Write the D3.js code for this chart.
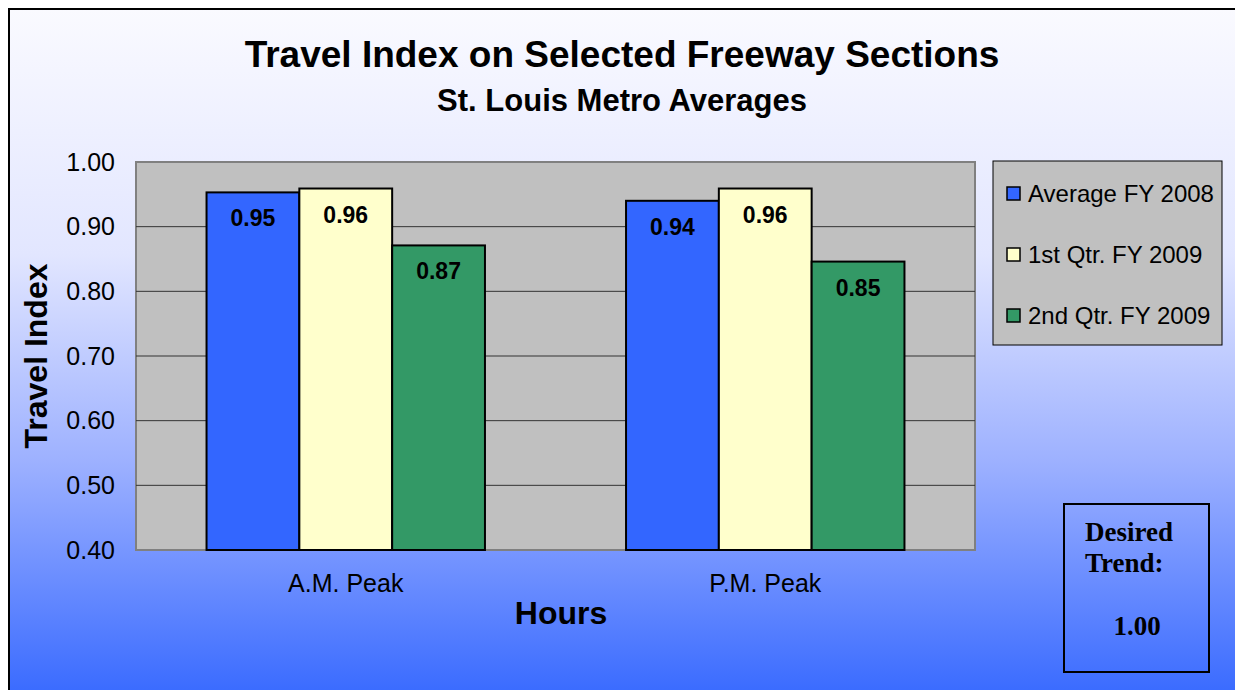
<!DOCTYPE html>
<html lang="en">
<head>
<meta charset="utf-8">
<title>Travel Index on Selected Freeway Sections</title>
<style>
  body { margin: 0; background: #fff; }
</style>
</head>
<body>
<svg id="chart" width="1235" height="690" font-family="'Liberation Sans', Arial, sans-serif"></svg>
<script src="https://d3js.org/d3.v7.min.js"></script>
<script>

var categories = ["A.M. Peak", "P.M. Peak"];
var seriesNames = ["Average FY 2008", "1st Qtr. FY 2009", "2nd Qtr. FY 2009"];
var seriesColors = ["#3366FF", "#FFFFCC", "#339966"];
var avgFY2008 = [0.953, 0.940];
var q1FY2009 = [0.959, 0.959];
var q2FY2009 = [0.871, 0.846];
var yTicks = [0.40, 0.50, 0.60, 0.70, 0.80, 0.90, 1.00];

var series = [avgFY2008, q1FY2009, q2FY2009];

var sans = "'Liberation Sans', Arial, sans-serif";
var serif = "'Liberation Serif', 'Times New Roman', serif";

var svg = d3.select("#chart");
var width = 1235, height = 690;

// background gradient
var defs = svg.append("defs");
var grad = defs.append("linearGradient")
    .attr("id", "bg").attr("x1", 0).attr("y1", 0).attr("x2", 0).attr("y2", 1);
grad.append("stop").attr("offset", "0%").attr("stop-color", "#FAFAFF");
grad.append("stop").attr("offset", "35%").attr("stop-color", "#E2E6FF");
grad.append("stop").attr("offset", "65%").attr("stop-color", "#9CB0FF");
grad.append("stop").attr("offset", "100%").attr("stop-color", "#3366FF");

svg.append("rect")
    .attr("x", 9).attr("y", 9)
    .attr("width", width + 10).attr("height", height + 10)
    .attr("fill", "url(#bg)")
    .attr("stroke", "#000").attr("stroke-width", 2);

// plot area
var plot = {left: 136, top: 162, right: 975, bottom: 550};

var x0 = d3.scaleBand().domain(categories).range([plot.left, plot.right]);
var x1 = d3.scaleBand().domain(d3.range(series.length))
    .range([0, x0.bandwidth()]).paddingOuter(0.76).paddingInner(0);
var y = d3.scaleLinear().domain([0.4, 1.0]).range([plot.bottom, plot.top]);

svg.append("rect")
    .attr("x", plot.left).attr("y", plot.top)
    .attr("width", plot.right - plot.left).attr("height", plot.bottom - plot.top)
    .attr("fill", "#C0C0C0")
    .attr("stroke", "#808080").attr("stroke-width", 2);

// gridlines
svg.append("g")
    .selectAll("line")
    .data(yTicks.filter(function(d) { return d > 0.4 && d < 1.0; }))
    .enter().append("line")
    .attr("x1", plot.left).attr("x2", plot.right)
    .attr("y1", function(d) { return y(d); })
    .attr("y2", function(d) { return y(d); })
    .attr("stroke", "#333").attr("stroke-width", 1);

// y axis
var yAxis = svg.append("g")
    .attr("transform", "translate(" + plot.left + ",0)")
    .call(d3.axisLeft(y).tickValues(yTicks).tickFormat(d3.format(".2f")).tickSize(0).tickPadding(21));
yAxis.select(".domain").remove();
yAxis.selectAll("text")
    .attr("font-size", 25).attr("fill", "#000")
    .attr("font-family", sans);

// x axis
var xAxis = svg.append("g")
    .attr("transform", "translate(0," + plot.bottom + ")")
    .call(d3.axisBottom(x0).tickSize(0).tickPadding(24));
xAxis.select(".domain").remove();
xAxis.selectAll("text")
    .attr("font-size", 25).attr("fill", "#000")
    .attr("font-family", sans)
    .attr("dy", null).attr("y", 42);

// bars
var rows = [];
categories.forEach(function(c, i) {
  series.forEach(function(s, j) {
    rows.push({cat: c, s: j, v: s[i]});
  });
});

var bars = svg.append("g").selectAll("g")
    .data(rows).enter().append("g");

bars.append("rect")
    .attr("x", function(d) { return x0(d.cat) + x1(d.s); })
    .attr("y", function(d) { return y(d.v); })
    .attr("width", x1.bandwidth())
    .attr("height", function(d) { return plot.bottom - y(d.v); })
    .attr("fill", function(d) { return seriesColors[d.s]; })
    .attr("stroke", "#000").attr("stroke-width", 2);

bars.append("text")
    .attr("x", function(d) { return x0(d.cat) + x1(d.s) + x1.bandwidth() / 2; })
    .attr("y", function(d) { return y(d.v) + 34; })
    .attr("text-anchor", "middle")
    .attr("font-size", 23).attr("font-weight", "bold")
    .text(function(d) { return d.v.toFixed(2); });

// titles
svg.append("text")
    .attr("x", 622).attr("y", 67)
    .attr("text-anchor", "middle")
    .attr("font-size", 37).attr("font-weight", "bold")
    .text("Travel Index on Selected Freeway Sections");

svg.append("text")
    .attr("x", 622).attr("y", 111)
    .attr("text-anchor", "middle")
    .attr("font-size", 31).attr("font-weight", "bold")
    .text("St. Louis Metro Averages");

svg.append("text")
    .attr("transform", "translate(47,356) rotate(-90)")
    .attr("text-anchor", "middle")
    .attr("font-size", 32).attr("font-weight", "bold")
    .text("Travel Index");

svg.append("text")
    .attr("x", 561).attr("y", 624)
    .attr("text-anchor", "middle")
    .attr("font-size", 32).attr("font-weight", "bold")
    .text("Hours");

// legend
var legend = svg.append("g").attr("transform", "translate(993,161)");
legend.append("rect")
    .attr("width", 229).attr("height", 184)
    .attr("fill", "#C0C0C0")
    .attr("stroke", "#000").attr("stroke-width", 1);

var items = legend.selectAll("g.item")
    .data(seriesNames).enter().append("g")
    .attr("class", "item")
    .attr("transform", function(d, i) { return "translate(14," + (32 + i * 61) + ")"; });

items.append("rect")
    .attr("x", 0).attr("y", -6)
    .attr("width", 13).attr("height", 13)
    .attr("fill", function(d, i) { return seriesColors[i]; })
    .attr("stroke", "#000").attr("stroke-width", 1.5);

items.append("text")
    .attr("x", 21).attr("y", 9)
    .attr("font-size", 24)
    .text(function(d) { return d; });

// desired trend box
var trend = svg.append("g").attr("transform", "translate(1064,504)");
trend.append("rect")
    .attr("width", 145).attr("height", 168)
    .attr("fill", "none")
    .attr("stroke", "#000").attr("stroke-width", 2);

var trendLines = [["Desired", 21, 37, "start"], ["Trend:", 21, 68, "start"], ["1.00", 73, 131, "middle"]];
trend.selectAll("text")
    .data(trendLines).enter().append("text")
    .attr("x", function(d) { return d[1]; })
    .attr("y", function(d) { return d[2]; })
    .attr("text-anchor", function(d) { return d[3]; })
    .attr("font-family", serif)
    .attr("font-size", 27).attr("font-weight", "bold")
    .text(function(d) { return d[0]; });
</script>
</body>
</html>
